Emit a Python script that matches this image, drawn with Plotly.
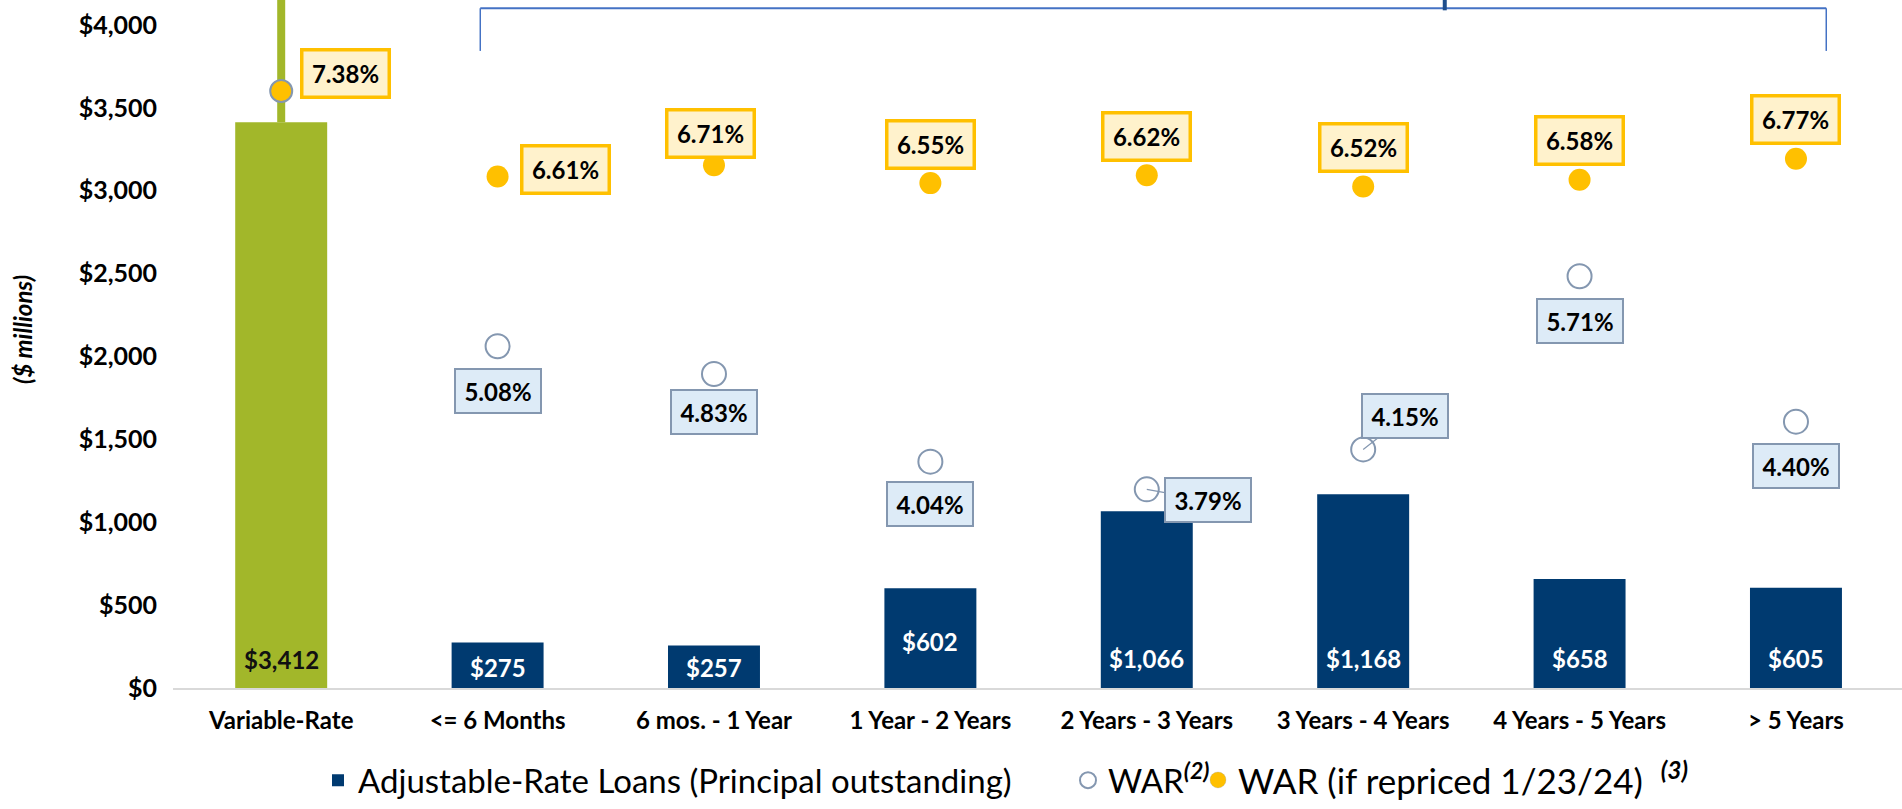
import plotly.graph_objects as go

# ---------------- data ----------------
categories = ["Variable-Rate", "<= 6 Months", "6 mos. - 1 Year", "1 Year - 2 Years",
              "2 Years - 3 Years", "3 Years - 4 Years", "4 Years - 5 Years", "> 5 Years"]
principal = [3412, 275, 257, 602, 1066, 1168, 658, 605]          # $ millions
war = [None, 5.08, 4.83, 4.04, 3.79, 4.15, 5.71, 4.40]            # %
war_repriced = [7.38, 6.61, 6.71, 6.55, 6.62, 6.52, 6.58, 6.77]   # %
y_ticks = [0, 500, 1000, 1500, 2000, 2500, 3000, 3500, 4000]

# ---------------- style ----------------
FONT = "Lato, 'Open Sans', sans-serif"
GREEN = "#A2B72A"
NAVY = "#003A70"
GOLD = "#FFC000"
GOLD_FILL = "#FFF2CC"
GREY_BLUE = "#8497B0"
BLUE_FILL = "#DDEBF7"
LABEL_SIZE = 24

x = list(range(len(categories)))

fig = go.Figure()

# Variable-rate bar (green) with vertical line above it
fig.add_trace(go.Bar(
    x=x[:1], y=principal[:1], width=0.425, marker=dict(color=GREEN, line=dict(width=0)),
    showlegend=False, hoverinfo="skip",
    error_y=dict(type="data", symmetric=False, array=[1200], arrayminus=[0],
                 color=GREEN, thickness=8, width=0),
))
# Adjustable-rate bars
fig.add_trace(go.Bar(
    x=x[1:], y=principal[1:], width=0.425, marker=dict(color=NAVY, line=dict(width=0)),
    name="Adjustable-Rate Loans (Principal outstanding)", legend="legend",
))
# WAR hollow circles
fig.add_trace(go.Scatter(
    x=x[1:], y=war[1:], yaxis="y2", mode="markers",
    marker=dict(size=24, color="white", line=dict(color=GREY_BLUE, width=2)),
    name="WAR<sup><b><i>(2)</i></b></sup>", legend="legend2",
))
# WAR if repriced
fig.add_trace(go.Scatter(
    x=x, y=war_repriced, yaxis="y2", mode="markers",
    marker=dict(size=22, color=GOLD,
                line=dict(color=GREY_BLUE, width=[2] + [0] * (len(x) - 1))),
    name="WAR (if repriced 1/23/24)  <sup><b><i>(3)</i></b></sup>", legend="legend3",
))

annotations = []
# bar value labels (vertical offsets in px)
bar_shift = [12, 4, 4, 30, 13, 13, 13, 13]
for i, v in enumerate(principal):
    annotations.append(dict(
        x=x[i], y=0, xref="x", yref="y", yanchor="bottom", showarrow=False,
        yshift=bar_shift[i],
        text=f"<b>${v:,}</b>",
        font=dict(family=FONT, size=LABEL_SIZE, color="#111111" if i == 0 else "white"),
    ))

# gold labels (x offset, y offset in px; y positive = up)
gold_off = [(64, 17), (68, 7), (-3, 32), (0, 39), (0, 39), (0, 39), (0, 39), (0, 39)]
for i, v in enumerate(war_repriced):
    dx, dy = gold_off[i]
    annotations.append(dict(
        x=x[i], y=v, xref="x", yref="y2", showarrow=False, xshift=dx, yshift=dy,
        text=f"<b>{v:.2f}%</b>", font=dict(family=FONT, size=LABEL_SIZE, color="black"),
        bgcolor=GOLD_FILL, bordercolor=GOLD, borderwidth=3.5, borderpad=2,
        width=80, height=40,
    ))

# WAR labels
war_off = {1: (0, -45), 2: (0, -38), 3: (0, -42), 6: (0, -45), 7: (0, -44)}
war_arrow = {4: (61, 11), 5: (42, -33)}
for i, v in enumerate(war):
    if v is None:
        continue
    common = dict(x=x[i], y=v, xref="x", yref="y2",
                  text=f"<b>{v:.2f}%</b>", font=dict(family=FONT, size=LABEL_SIZE, color="black"),
                  bgcolor=BLUE_FILL, bordercolor=GREY_BLUE, borderwidth=2, borderpad=2,
                  width=80, height=38)
    if i in war_off:
        dx, dy = war_off[i]
        annotations.append(dict(showarrow=False, xshift=dx, yshift=dy, **common))
    else:
        ax, ay = war_arrow[i]
        annotations.append(dict(showarrow=True, arrowhead=0, arrowwidth=1.2,
                                arrowcolor=GREY_BLUE, standoff=0, ax=ax, ay=ay, **common))

# y-axis title
annotations.append(dict(
    x=0, y=0.5, xref="paper", yref="paper", xanchor="center", yanchor="middle",
    xshift=-151, yshift=14, showarrow=False,
    textangle=-90, text="<b><i>($ millions)</i></b>",
    font=dict(family=FONT, size=24, color="black"),
))

# bracket above fixed-rate periods
BR = "#4472C4"
shapes = [
    dict(type="line", xref="x", yref="paper", x0=0.92, x1=7.14, y0=0.988, y1=0.988,
         line=dict(color=BR, width=2)),
    dict(type="line", xref="x", yref="paper", x0=0.92, x1=0.92, y0=0.926, y1=0.988,
         line=dict(color=BR, width=1.5)),
    dict(type="line", xref="x", yref="paper", x0=7.14, x1=7.14, y0=0.926, y1=0.988,
         line=dict(color=BR, width=1.5)),
    dict(type="line", xref="x", yref="paper", x0=5.377, x1=5.377, y0=0.985, y1=1.0,
         line=dict(color="#1F4E8C", width=4)),
]

tick_text = [c.replace("<", "&lt;") for c in categories]

legend_common = dict(orientation="h", yanchor="middle", y=-0.134, xanchor="left",
                     bgcolor="rgba(0,0,0,0)", itemsizing="trace")
legend_font = dict(family=FONT, size=33, color="black")

fig.update_layout(
    width=1902, height=809,
    margin=dict(l=173, r=0, t=0, b=121, autoexpand=False),
    paper_bgcolor="white", plot_bgcolor="white",
    barmode="overlay",
    font=dict(family=FONT, color="black"),
    xaxis=dict(range=[-0.5, 7.49], tickvals=x, ticktext=[f"<b>{t}</b>" for t in tick_text],
               tickfont=dict(family=FONT, size=24, color="black"),
               showgrid=False, zeroline=False, showline=True, linecolor="#D9D9D9",
               linewidth=2, ticks="", ticklabelstandoff=10, fixedrange=True),
    yaxis=dict(range=[0, 4150], tickvals=y_ticks,
               ticktext=[f"<b>${t:,}</b>" for t in y_ticks],
               tickfont=dict(family=FONT, size=25, color="black"),
               showgrid=False, zeroline=False, showline=False, ticks="",
               ticklabelstandoff=15),
    yaxis2=dict(range=[2.0, 8.2], overlaying="y", side="right", visible=False),
    legend=dict(x=(318 - 173) / 1729, font=legend_font, **legend_common),
    legend2=dict(x=(1068 - 173) / 1729, font=legend_font, **legend_common),
    legend3=dict(x=(1198 - 173) / 1729, font=dict(legend_font, size=35), **legend_common),
    annotations=annotations,
    shapes=shapes,
)

fig.write_html("out.html", config={"displayModeBar": False},
               post_script="document.body.style.margin='0';document.body.style.padding='0';")
